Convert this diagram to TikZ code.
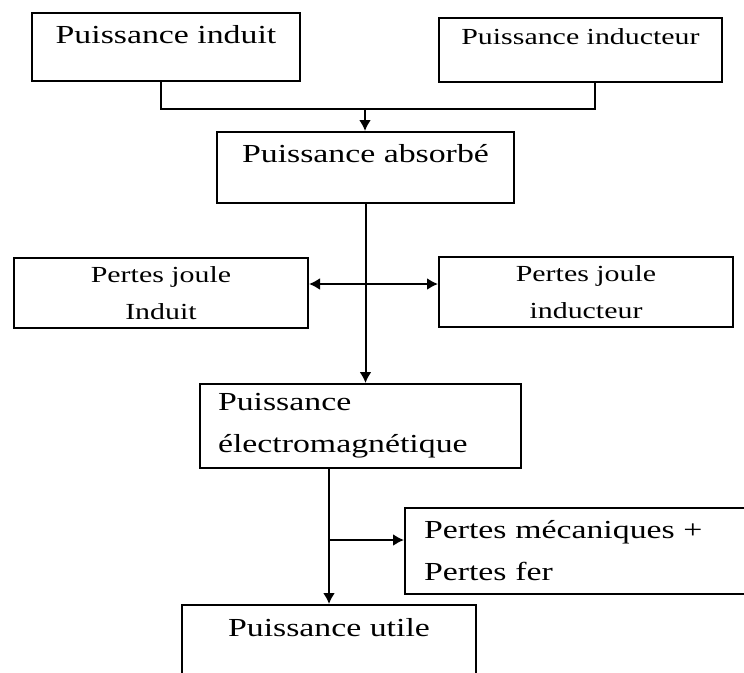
\documentclass[tikz,border=0pt]{standalone}
\usepackage{fontspec}
\setmainfont{Liberation Serif}[FakeStretch=1.3]
\usetikzlibrary{arrows.meta}

\tikzset{
  bloc/.style={draw, line width=2pt, anchor=north west, inner sep=0pt, align=center,
    font=\fontsize{26}{42}\selectfont},
  petit/.style={font=\fontsize{23}{37}\selectfont},
  trait/.style={line width=2pt},
  fleche/.style={line width=2pt, -{Latex[length=11pt,width=12pt]}},
  dfleche/.style={line width=2pt, {Latex[length=11pt,width=12pt]}-{Latex[length=11pt,width=12pt]}},
}

\begin{document}
\begin{tikzpicture}[x=1pt,y=-1pt]
\useasboundingbox (0,0) rectangle (744,672);
\node[bloc, minimum width=268pt, text height=30pt, text depth=38pt] (pind) at (31,12) {Puissance induit};
\node[bloc, petit, minimum width=283pt, text height=26pt, text depth=38pt] (pinduc) at (438,17) {Puissance inducteur};
\node[bloc, minimum width=297pt, text height=30pt, text depth=41pt] (pabs) at (216,131) {Puissance absorbé};
\node[bloc, petit, minimum width=294pt, minimum height=70pt] (pjind) at (13,257) {Pertes joule\\Induit};
\node[bloc, petit, minimum width=294pt, minimum height=70pt] (pjinduc) at (438,256) {Pertes joule\\inducteur};
\node[bloc, align=left, inner xsep=18pt, text width=285pt, minimum height=84pt] (pem) at (199,383) {Puissance\\électromagnétique};
\node[bloc, align=left, inner xsep=19pt, text width=320pt, minimum height=86pt] (pmeca) at (404,507) {Pertes mécaniques +\\Pertes fer};
\node[bloc, minimum width=294pt, text height=31pt, text depth=70pt] (putile) at (181,604) {Puissance utile};

% points de jonction
\coordinate (jn) at (365,109);
\coordinate (jx) at (365,284);
\coordinate (jy) at (329,540);

\draw[trait] ([xshift=-5pt]pind.south) |- (jn) -| ([xshift=14pt]pinduc.south);
\draw[fleche] (jn) -- (jn |- pabs.north);
\draw[fleche] (pabs.south) -- (pabs.south |- pem.north);
\draw[dfleche] (jx -| pjind.east) -- (jx -| pjinduc.west);
\draw[fleche] (pem.south -| putile.north) -- (putile.north);
\draw[fleche] (jy) -- (jy -| pmeca.west);
\end{tikzpicture}
\end{document}
